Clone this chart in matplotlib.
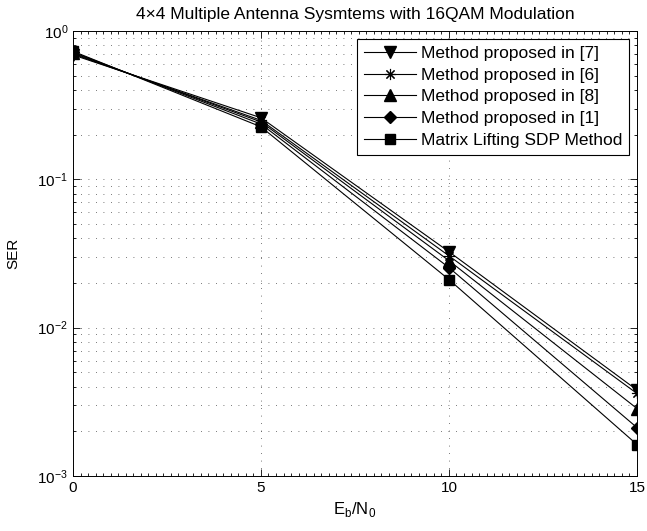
import numpy as np
import matplotlib
matplotlib.use('Agg')
import matplotlib.pyplot as plt
from matplotlib.ticker import LogLocator, MultipleLocator, NullFormatter

plt.rcParams['font.family'] = ['Liberation Sans', 'DejaVu Sans']
plt.rcParams['mathtext.fontset'] = 'custom'
plt.rcParams['mathtext.rm'] = 'Liberation Sans'

# SNR points (dB)
ebn0 = [0, 5, 10, 15]

# SER values
ser_m7 = [0.690, 0.260, 0.0325, 0.0038]
ser_m6 = [0.700, 0.250, 0.0305, 0.0036]
ser_m8 = [0.710, 0.244, 0.0283, 0.00285]
ser_m1 = [0.720, 0.236, 0.0254, 0.00212]
ser_sdp = [0.730, 0.226, 0.0211, 0.00163]

labels = ['Method proposed in [7]', 'Method proposed in [6]',
          'Method proposed in [8]', 'Method proposed in [1]',
          'Matrix Lifting SDP Method']

fig = plt.figure(figsize=(6.47, 5.31), dpi=100)
ax = fig.add_axes([0.1128, 0.1036, 0.8717, 0.838])

# asterisk marker like matlab '*'
ast = (8, 2, 0)

ax.semilogy(ebn0, ser_m7, 'k-v', lw=0.8, ms=8, label=labels[0])
ax.semilogy(ebn0, ser_m6, 'k-', marker=ast, lw=0.8, ms=8, mew=0.8, label=labels[1])
ax.semilogy(ebn0, ser_m8, 'k-^', lw=0.8, ms=8, label=labels[2])
ax.semilogy(ebn0, ser_m1, 'k-D', lw=0.8, ms=6.5, label=labels[3])
ax.semilogy(ebn0, ser_sdp, 'k-s', lw=0.8, ms=7, label=labels[4])

ax.set_xlim(0, 15)
ax.set_ylim(1e-3, 1)
ax.set_xticks([0, 5, 10, 15])
ax.xaxis.set_minor_locator(MultipleLocator(0.2))
ax.yaxis.set_major_locator(LogLocator(base=10))
ax.yaxis.set_minor_locator(LogLocator(base=10, subs=np.arange(2, 10)))
ax.yaxis.set_minor_formatter(NullFormatter())

ax.tick_params(which='both', direction='in', top=True, right=True,
               labelsize=11, width=0.6)
ax.tick_params(which='major', length=5)
ax.tick_params(which='minor', length=2.5)

ax.grid(True, which='major', linestyle=(0, (1, 8)), color='0.3', lw=0.6)
ax.grid(True, which='minor', axis='y', linestyle=(0, (1, 8)), color='0.3', lw=0.6)

for s in ax.spines.values():
    s.set_linewidth(0.7)

ax.set_title('4\u00d74 Multiple Antenna Sysmtems with 16QAM Modulation', fontsize=12.5, pad=9)
ax.set_xlabel(r'E$_\mathregular{b}$/N$_\mathregular{0}$', fontsize=12, labelpad=4)
ax.set_ylabel('SER', fontsize=11, labelpad=12)

leg = ax.legend(loc='upper right', fontsize=12.5, fancybox=False, framealpha=1,
                edgecolor='k', handlelength=3.0, borderpad=0.4, labelspacing=0.38,
                handletextpad=0.25, borderaxespad=0.45)
leg.get_frame().set_linewidth(0.8)

fig.savefig('out.png', dpi=100)
